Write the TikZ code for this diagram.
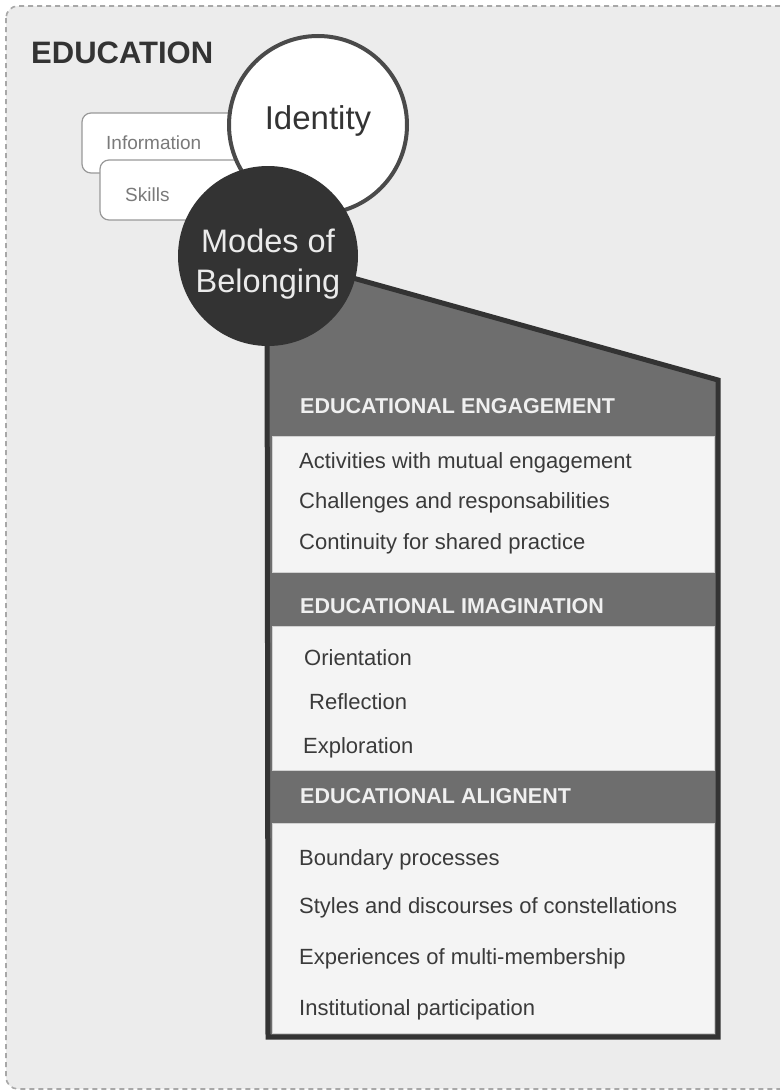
\documentclass[tikz,border=0pt]{standalone}
\usepackage{fontspec}
\setmainfont{Liberation Sans}
\definecolor{bgc}{HTML}{ECECEC}
\definecolor{dashc}{HTML}{A8A8A8}
\definecolor{framec}{HTML}{333333}
\definecolor{headc}{HTML}{6E6E6E}
\definecolor{panelc}{HTML}{F4F4F4}
\definecolor{itemc}{HTML}{3A3A3A}
\definecolor{smallc}{HTML}{7A7A7A}
\definecolor{identc}{HTML}{4A4A4A}
\tikzset{
  sz/.style={font=\fontsize{#1}{#1}\selectfont},
  item/.style={anchor=base west, inner sep=0pt, text=itemc, sz=22},
  headtxt/.style={anchor=base west, inner sep=0pt, text=white!94!black, font=\fontsize{21.5}{21.5}\selectfont\bfseries},
  panel/.style={fill=panelc, draw=white!82!black, line width=0.8pt},
  tagbox/.style={draw=white!60!black, fill=white, line width=1.2pt, rounded corners=9pt},
}
\begin{document}
\begin{tikzpicture}[x=1pt,y=-1pt]
\useasboundingbox (0,0) rectangle (779,1092);
\fill[white] (0,0) rectangle (779,1092);
\path[fill=bgc, draw=dashc, line width=1.6pt, dash pattern=on 5pt off 4pt, rounded corners=12pt] (6,6) rectangle (800,1089);

\node[anchor=base west, inner sep=0pt, text=framec, font=\fontsize{31}{31}\selectfont\bfseries] (edu) at (31,63) {EDUCATION};

% tag boxes
\draw[tagbox] (82,113) rectangle (250,173);
\node[anchor=base west, inner sep=0pt, text=smallc, sz=19] (info) at (106,149) {Information};
\draw[tagbox] (100,160) rectangle (260,220);
\node[anchor=base west, inner sep=0pt, text=smallc, sz=19] (skills) at (125,201) {Skills};

% identity circle
\node[circle, minimum size=178pt, inner sep=0pt, fill=white, draw=identc, line width=4pt] (identity) at (318,125) {};
\node[anchor=base, inner sep=0pt, text=framec, sz=33] (identtxt) at (318,129) {Identity};

% frame
\path[fill=headc, draw=framec, line width=5pt, line join=miter] (267,254) -- (268,1037) -- (718,1037) -- (718,380) -- cycle;

% panels
\draw[panel] (272,436) rectangle (714,572);
\draw[panel] (272,626) rectangle (714,770);
\draw[panel] (272,823) rectangle (714,1033);

% modes circle
\node[circle, minimum size=180pt, inner sep=0pt, fill=framec] (modes) at (268,256) {};
\node[anchor=base, inner sep=0pt, text=white!92!black, sz=32.5] (modes1) at (268,252) {Modes of};
\node[anchor=base, inner sep=0pt, text=white!92!black, sz=32.5] (modes2) at (268,292) {Belonging};

% headers
\node[headtxt] (h1) at (300,413) {EDUCATIONAL ENGAGEMENT};
\node[headtxt] (h2) at (300,613) {EDUCATIONAL IMAGINATION};
\node[headtxt] (h3) at (300,803) {EDUCATIONAL ALIGNENT};

% items
\node[item] (a1) at (299,468) {Activities with mutual engagement};
\node[item] (a2) at (299,508) {Challenges and responsabilities};
\node[item] (a3) at (299,549) {Continuity for shared practice};
\node[item] (b1) at (304,665) {Orientation};
\node[item] (b2) at (309,709) {Reflection};
\node[item] (b3) at (303,753) {Exploration};
\node[item] (c1) at (299,865) {Boundary processes};
\node[item] (c2) at (299,913) {Styles and discourses of constellations};
\node[item] (c3) at (299,964) {Experiences of multi-membership};
\node[item] (c4) at (299,1015) {Institutional participation};
\end{tikzpicture}
\end{document}
